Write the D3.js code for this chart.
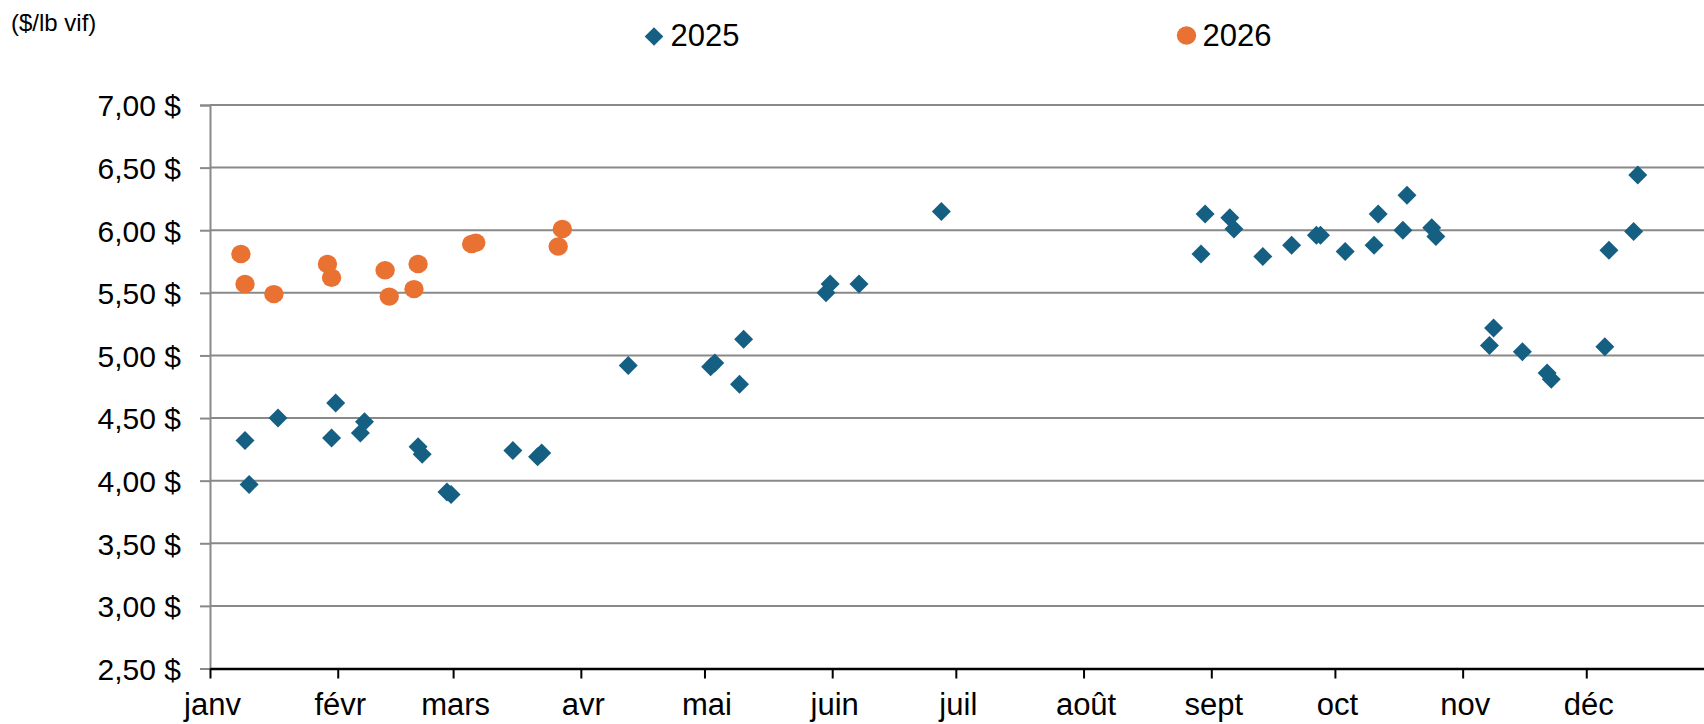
<!DOCTYPE html>
<html>
<head>
<meta charset="utf-8">
<script src="https://cdn.jsdelivr.net/npm/d3@7"></script>
<style>
  html, body { margin: 0; padding: 0; background: #fff; }
  svg { display: block; font-family: "Liberation Sans", Arial, sans-serif; }
</style>
</head>
<body>
<svg id="chart" width="1704" height="724"></svg>
<script>
// ---- Data ----
const unitLabel = "($/lb vif)";
const seriesNames = ["2025", "2026"];
const monthLabels = ["janv", "févr", "mars", "avr", "mai", "juin", "juil", "août", "sept", "oct", "nov", "déc"];
const yTicks = [2.5, 3.0, 3.5, 4.0, 4.5, 5.0, 5.5, 6.0, 6.5, 7.0];

const dates2025 = ["01-09","01-10","01-17","01-30","01-31","02-06","02-07","02-20","02-21","02-27","02-28",
  "03-15","03-21","03-22","04-12","05-02","05-03","05-09","05-10","05-30","05-31","06-07","06-27",
  "08-29","08-30","09-05","09-06","09-13","09-20","09-26","09-27","10-03","10-10","10-11","10-17",
  "10-18","10-24","10-25","11-07","11-08","11-15","11-21","11-22","12-05","12-06","12-12","12-13"];
const values2025 = [4.32,3.97,4.50,4.34,4.62,4.38,4.47,4.27,4.21,3.91,3.89,
  4.24,4.19,4.22,4.92,4.91,4.94,4.77,5.13,5.50,5.57,5.57,6.15,
  5.81,6.13,6.10,6.01,5.79,5.88,5.96,5.96,5.83,5.88,6.13,6.00,
  6.28,6.02,5.95,5.08,5.22,5.03,4.86,4.81,5.07,5.84,5.99,6.44];

const dates2026 = ["01-08","01-09","01-16","01-29","01-30","02-12","02-13","02-19","02-20","03-05","03-06","03-26","03-27"];
const values2026 = [5.81,5.57,5.49,5.73,5.62,5.68,5.47,5.53,5.73,5.89,5.90,5.87,6.01];

// ---- Setup ----
const colors = {"2025": "#156082", "2026": "#E97132"};
const svg = d3.select("#chart");
const W = 1704, H = 724;
svg.append("rect").attr("width", W).attr("height", H).attr("fill", "#fff");

const plotLeft = 210, plotRight = 1714, plotTop = 105, plotBottom = 668.5;
const parseMD = d3.timeParse("%Y-%m-%d %H:%M");
const toDate = md => parseMD("2025-" + md + " 12:00");

const x = d3.scaleTime()
  .domain([new Date(2025, 0, 1), new Date(2026, 0, 1)])
  .range([plotLeft, plotRight]);
const y = d3.scaleLinear().domain([2.5, 7]).range([plotBottom, plotTop]);

const fmt = v => v.toFixed(2).replace(".", ",") + " $";

// Gridlines + y axis
const yAxis = d3.axisLeft(y).tickValues(yTicks).tickFormat(fmt).tickSize(10).tickPadding(19);
const gy = svg.append("g").attr("transform", `translate(${plotLeft},0)`).call(yAxis);
gy.select(".domain").attr("stroke", "#898989").attr("stroke-width", 2);
gy.selectAll(".tick line").attr("stroke", "#898989").attr("stroke-width", 2);
gy.selectAll(".tick text").attr("font-size", 30).attr("fill", "#000")
  .attr("font-family", "'Liberation Sans', Arial, sans-serif").attr("dy", "0.36em");

svg.append("g").selectAll("line").data(yTicks.filter(v => v > 2.5)).join("line")
  .attr("x1", plotLeft).attr("x2", W)
  .attr("y1", d => y(d)).attr("y2", d => y(d))
  .attr("stroke", "#898989").attr("stroke-width", 2);

// X axis
const monthStarts = d3.range(12).map(m => new Date(2025, m, 1));
const xAxis = d3.axisBottom(x).tickValues(monthStarts)
  .tickFormat((d, i) => monthLabels[i]).tickSize(10).tickPadding(14).tickSizeOuter(0);
const gx = svg.append("g").attr("transform", `translate(0,${plotBottom})`).call(xAxis);
gx.select(".domain").attr("stroke", "#000").attr("stroke-width", 2.5);
gx.selectAll(".tick line").attr("stroke", "#000").attr("stroke-width", 2);
gx.selectAll(".tick text").attr("font-size", 31).attr("fill", "#000")
  .attr("font-family", "'Liberation Sans', Arial, sans-serif").attr("dx", "2");

// Unit label
svg.append("text").attr("x", 11).attr("y", 30.5).attr("font-size", 24).attr("fill", "#000").text(unitLabel);

// Markers
const diamond = s => `M0,${-s}L${s},0L0,${s}L${-s},0Z`;
const data2025 = dates2025.map((d, i) => ({date: toDate(d), value: values2025[i]}));
const data2026 = dates2026.map((d, i) => ({date: toDate(d), value: values2026[i]}));

svg.append("g").selectAll("path").data(data2025).join("path")
  .attr("d", diamond(9.5))
  .attr("transform", d => `translate(${x(d.date)},${y(d.value)})`)
  .attr("fill", colors["2025"]);

svg.append("g").selectAll("ellipse").data(data2026).join("ellipse")
  .attr("cx", d => x(d.date)).attr("cy", d => y(d.value))
  .attr("rx", 9.7).attr("ry", 9.2)
  .attr("fill", colors["2026"]);

// Legend
const lg = svg.append("g");
lg.append("path").attr("d", diamond(9.3)).attr("transform", "translate(654,36.5)").attr("fill", colors["2025"]);
lg.append("text").attr("x", 670.5).attr("y", 46).attr("font-size", 31).attr("fill", "#000").text(seriesNames[0]);
lg.append("ellipse").attr("cx", 1186.5).attr("cy", 35.5).attr("rx", 9.7).attr("ry", 9.2).attr("fill", colors["2026"]);
lg.append("text").attr("x", 1202.5).attr("y", 46).attr("font-size", 31).attr("fill", "#000").text(seriesNames[1]);
</script>
</body>
</html>
